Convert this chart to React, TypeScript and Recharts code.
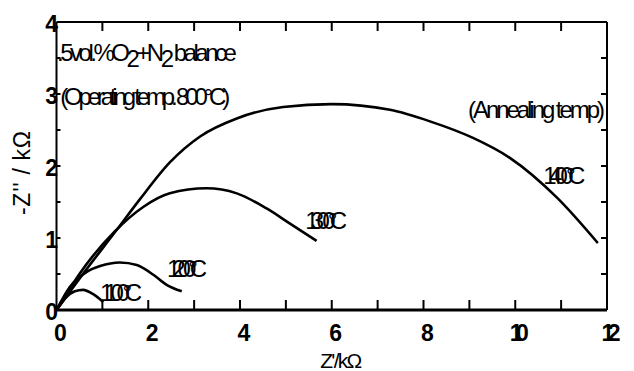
import React from 'react';
import { LineChart, Line, XAxis, YAxis, ReferenceDot } from 'recharts';

// Nyquist data (Z' in kΩ, -Z'' in kΩ)
const zr1400 = [0, 0.15, 0.6, 1.31, 1.82, 2.47, 3.13, 3.93, 4.94, 6.0, 7.27, 8.14, 9.08, 9.89, 10.91, 11.8];
const zi1400 = [0, 0.13, 0.52, 1.11, 1.54, 2.05, 2.41, 2.66, 2.82, 2.86, 2.78, 2.62, 2.39, 2.11, 1.56, 0.93];

const zr1300 = [0, 0.15, 0.5, 1.27, 1.89, 2.47, 3.27, 3.93, 4.58, 5.09, 5.67];
const zi1300 = [0, 0.15, 0.5, 1.09, 1.43, 1.62, 1.69, 1.62, 1.41, 1.2, 0.96];

const zr1200 = [0, 0.29, 0.66, 0.95, 1.38, 1.75, 2.11, 2.4, 2.73];
const zi1200 = [0, 0.32, 0.53, 0.61, 0.66, 0.625, 0.49, 0.35, 0.26];

const zr1100 = [0, 0.2, 0.4, 0.58, 0.8, 1.02];
const zi1100 = [0, 0.17, 0.26, 0.28, 0.22, 0.11];

const X_MAX = 12;
const Y_MAX = 4;
const xTicks = [0, 1, 2, 3, 4, 5, 6, 7, 8, 9, 10, 11, 12];
const xLabels = [0, 2, 4, 6, 8, 10, 12];
const yTicks = [0, 0.5, 1, 1.5, 2, 2.5, 3, 3.5, 4];
const yLabels = [0, 1, 2, 3, 4];
const xInner = [1, 2, 3, 4, 5, 6, 7, 8, 9, 10, 11];
const yInner = [0.5, 1, 1.5, 2, 2.5, 3, 3.5];

const annX = [0.01, 0.08, 8.97, 10.61, 5.42, 2.41, 0.95];
const annY = [3.58, 2.96, 2.78, 1.875, 1.25, 0.583, 0.25];
const annText = [
  'HEADER',
  '(Operating temp. 800°C)',
  '(Annealing temp)',
  '1400°C',
  '1300°C',
  '1200°C',
  '1100°C',
];
const annWidth = [180, 170, 137, 42, 42, 40, 42];

const FONT = '"Liberation Sans", Arial, sans-serif';

const toPts = (xs: number[], ys: number[]) => xs.map((x, i) => ({ x, y: ys[i] }));

const BottomTick = (p: any) => {
  const { x, y, payload } = p;
  const v = payload.value;
  if (!xLabels.includes(v)) return <g />;
  return (
    <text
      x={x + 4}
      y={y + 31}
      textAnchor="middle"
      fontFamily={FONT}
      fontSize={23}
      fontWeight="bold"
      fill="#000"
      {...(v >= 10 ? { textLength: 19, lengthAdjust: 'spacing' } : {})}
    >
      {v}
    </text>
  );
};

const EmptyTick = () => <g />;

const LeftTick = (p: any) => {
  const { x, y, payload } = p;
  const v = payload.value;
  if (!yLabels.includes(v)) return <g />;
  return (
    <text
      x={x + 1.5}
      y={y + 10}
      textAnchor="end"
      fontFamily={FONT}
      fontSize={23}
      fontWeight="bold"
      fill="#000"
    >
      {v}
    </text>
  );
};

const AnnLabel = (props: any) => {
  const { viewBox, idx } = props;
  const x = viewBox.x;
  const y = viewBox.y + 8.5;
  const common = {
    fontFamily: FONT,
    fontSize: 24,
    fill: '#000',
    textLength: annWidth[idx],
    lengthAdjust: 'spacing',
  } as any;
  if (annText[idx] === 'HEADER') {
    return (
      <text x={x} y={y} {...common}>
        .5vol.%O
        <tspan dy={6}>2</tspan>
        <tspan dy={-6}>+N</tspan>
        <tspan dy={6}>2</tspan>
        <tspan dy={-6}> balance</tspan>
      </text>
    );
  }
  return (
    <text x={x} y={y} {...common}>
      {annText[idx]}
    </text>
  );
};

// Inward tick marks are drawn from the axis viewBox (axis scale fractions)
const YTitle = (props: any) => {
  const vb = props.viewBox;
  const ax = vb.x + vb.width;
  const cx = ax - 34.5;
  const cy = vb.y + vb.height / 2 + 7;
  return (
    <g>
      {yInner.map((v) => {
        const ty = vb.y + vb.height * (1 - v / Y_MAX);
        return <line key={v} x1={ax} x2={ax + 4} y1={ty} y2={ty} stroke="#000" strokeWidth={2} />;
      })}
      <text
        x={cx}
        y={cy}
        transform={`rotate(-90, ${cx}, ${cy})`}
        textAnchor="middle"
        dominantBaseline="central"
        fontFamily={FONT}
        fontSize={23}
        fill="#000"
        textLength={84}
        lengthAdjust="spacing"
      >
        -Z'' / kΩ
      </text>
    </g>
  );
};

const RightMarks = (props: any) => {
  const vb = props.viewBox;
  const ax = vb.x;
  return (
    <g>
      {yInner.map((v) => {
        const ty = vb.y + vb.height * (1 - v / Y_MAX);
        return <line key={v} x1={ax} x2={ax - 6} y1={ty} y2={ty} stroke="#000" strokeWidth={2} />;
      })}
    </g>
  );
};

const TopMarks = (props: any) => {
  const vb = props.viewBox;
  const ay = vb.y + vb.height;
  return (
    <g>
      {xInner.map((v) => {
        const tx = vb.x + vb.width * (v / X_MAX);
        return <line key={v} x1={tx} x2={tx} y1={ay} y2={ay + 9} stroke="#000" strokeWidth={2} />;
      })}
    </g>
  );
};

const XTitle = (props: any) => {
  const vb = props.viewBox;
  const ay = vb.y;
  const cx = vb.x + vb.width / 2 + 9.5;
  const cy = vb.y + 57.5;
  return (
    <g>
      {xInner.map((v) => {
        const tx = vb.x + vb.width * (v / X_MAX);
        return <line key={v} x1={tx} x2={tx} y1={ay} y2={ay - 10} stroke="#000" strokeWidth={2} />;
      })}
      <text
        x={cx}
        y={cy}
        textAnchor="middle"
        fontFamily={FONT}
        fontSize={21}
        fill="#000"
        textLength={42}
        lengthAdjust="spacing"
      >
        Z'/kΩ
      </text>
    </g>
  );
};

export default function App() {
  const series = [
    toPts(zr1400, zi1400),
    toPts(zr1300, zi1300),
    toPts(zr1200, zi1200),
    toPts(zr1100, zi1100),
  ];
  return (
    <div style={{ width: 626, height: 363 }}>
      <LineChart
        width={626}
        height={363}
        margin={{ top: 13, right: 26, bottom: 60, left: 47.5 }}
      >
        <XAxis
          xAxisId={0}
          dataKey="x"
          type="number"
          domain={[0, X_MAX]}
          ticks={xTicks}
          interval={0}
          height={1}
          tickSize={0}
          tickMargin={0}
          tick={<BottomTick />}
          axisLine={{ stroke: '#000', strokeWidth: 3 }}
          tickLine={false}
          allowDataOverflow
          label={<XTitle />}
        />
        <XAxis
          xAxisId="top"
          orientation="top"
          type="number"
          domain={[0, X_MAX]}
          ticks={xTicks}
          interval={0}
          height={1}
          tickSize={0}
          tick={<EmptyTick />}
          axisLine={{ stroke: '#000', strokeWidth: 2 }}
          tickLine={false}
          allowDataOverflow
          label={<TopMarks />}
        />
        <YAxis
          yAxisId={0}
          type="number"
          domain={[0, Y_MAX]}
          ticks={yTicks}
          interval={0}
          width={1}
          tickSize={0}
          tickMargin={0}
          tick={<LeftTick />}
          axisLine={{ stroke: '#000', strokeWidth: 2 }}
          tickLine={false}
          allowDataOverflow
          label={<YTitle />}
        />
        <YAxis
          yAxisId="right"
          orientation="right"
          type="number"
          domain={[0, Y_MAX]}
          ticks={yTicks}
          interval={0}
          width={1}
          tickSize={0}
          tick={<EmptyTick />}
          axisLine={{ stroke: '#000', strokeWidth: 2 }}
          tickLine={false}
          allowDataOverflow
          label={<RightMarks />}
        />
        {series.map((d, i) => (
          <Line
            key={i}
            data={d}
            dataKey="y"
            type="monotone"
            stroke="#000"
            strokeWidth={2.6}
            dot={false}
            activeDot={false}
            isAnimationActive={false}
          />
        ))}
        {annX.map((ax, i) => (
          <ReferenceDot
            key={'a' + i}
            x={ax}
            y={annY[i]}
            r={0}
            fill="none"
            stroke="none"
            label={(p: any) => <AnnLabel viewBox={p.viewBox} idx={i} />}
          />
        ))}
      </LineChart>
    </div>
  );
}
